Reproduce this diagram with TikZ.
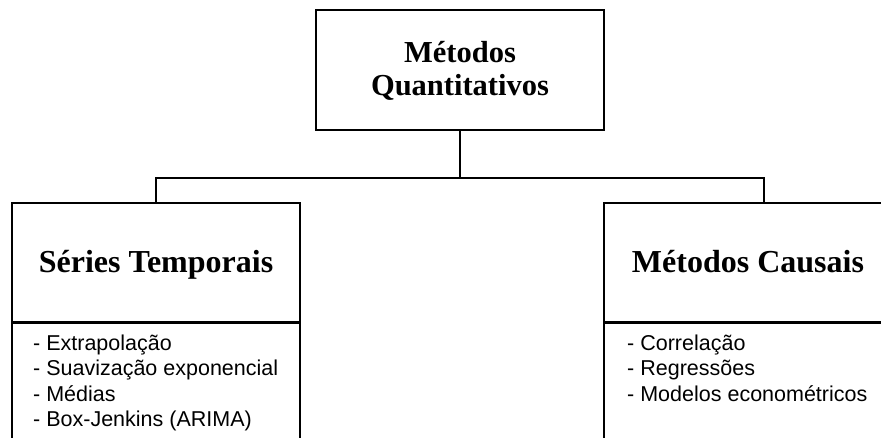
\documentclass[tikz,border=0pt]{standalone}
\usepackage{fontspec}
\setmainfont{Liberation Serif}
\newfontfamily\listfont{Liberation Sans}
\begin{document}
\begin{tikzpicture}[x=1pt,y=-1pt,
  frame/.style={draw=black, line width=1.3pt, rectangle, inner sep=0pt},
  titlebox/.style={frame, font=\fontsize{32}{33}\selectfont\bfseries, align=center,
    text height=21pt, text depth=0pt},
  itembox/.style={frame},
  % the base anchor of a multi-line list sits on its last line
  items/.style={font=\listfont\fontsize{21.5}{25.5}\selectfont, align=left, inner sep=0pt, anchor=base west},
  link/.style={draw=black, line width=1.3pt}]
\useasboundingbox (0,0) rectangle (881,438);
\clip (0,0) rectangle (881,438);

% root
\node[titlebox, font=\fontsize{30.5}{33}\selectfont\bfseries, text height=52pt,
  minimum width=288, minimum height=120] (q) at (460,70) {Métodos\\Quantitativos};

% left branch
\node[titlebox, minimum width=288, minimum height=119] (st) at (156,262.5) {Séries Temporais};
\node[itembox, minimum width=288, minimum height=160, anchor=north] (stl) at (st.south) {};
\node[items] (stitems) at (33,426.5) {- Extrapolação\\- Suavização exponencial\\- Médias\\- Box-Jenkins (ARIMA)};

% right branch
\node[titlebox, minimum width=288, minimum height=119] (mc) at (748,262.5) {Métodos Causais};
\node[itembox, minimum width=288, minimum height=160, anchor=north] (mcl) at (mc.south) {};
\node[items] (mcitems) at (627,401) {- Correlação\\- Regressões\\- Modelos econométricos};

% connectors
\coordinate (bus) at (460,178);
\coordinate (mcin) at (764,203);
\draw[link] (q.south) -- (bus);
\draw[link] (bus) -| (st.north);
\draw[link] (bus) -| (mcin);
\end{tikzpicture}
\end{document}
